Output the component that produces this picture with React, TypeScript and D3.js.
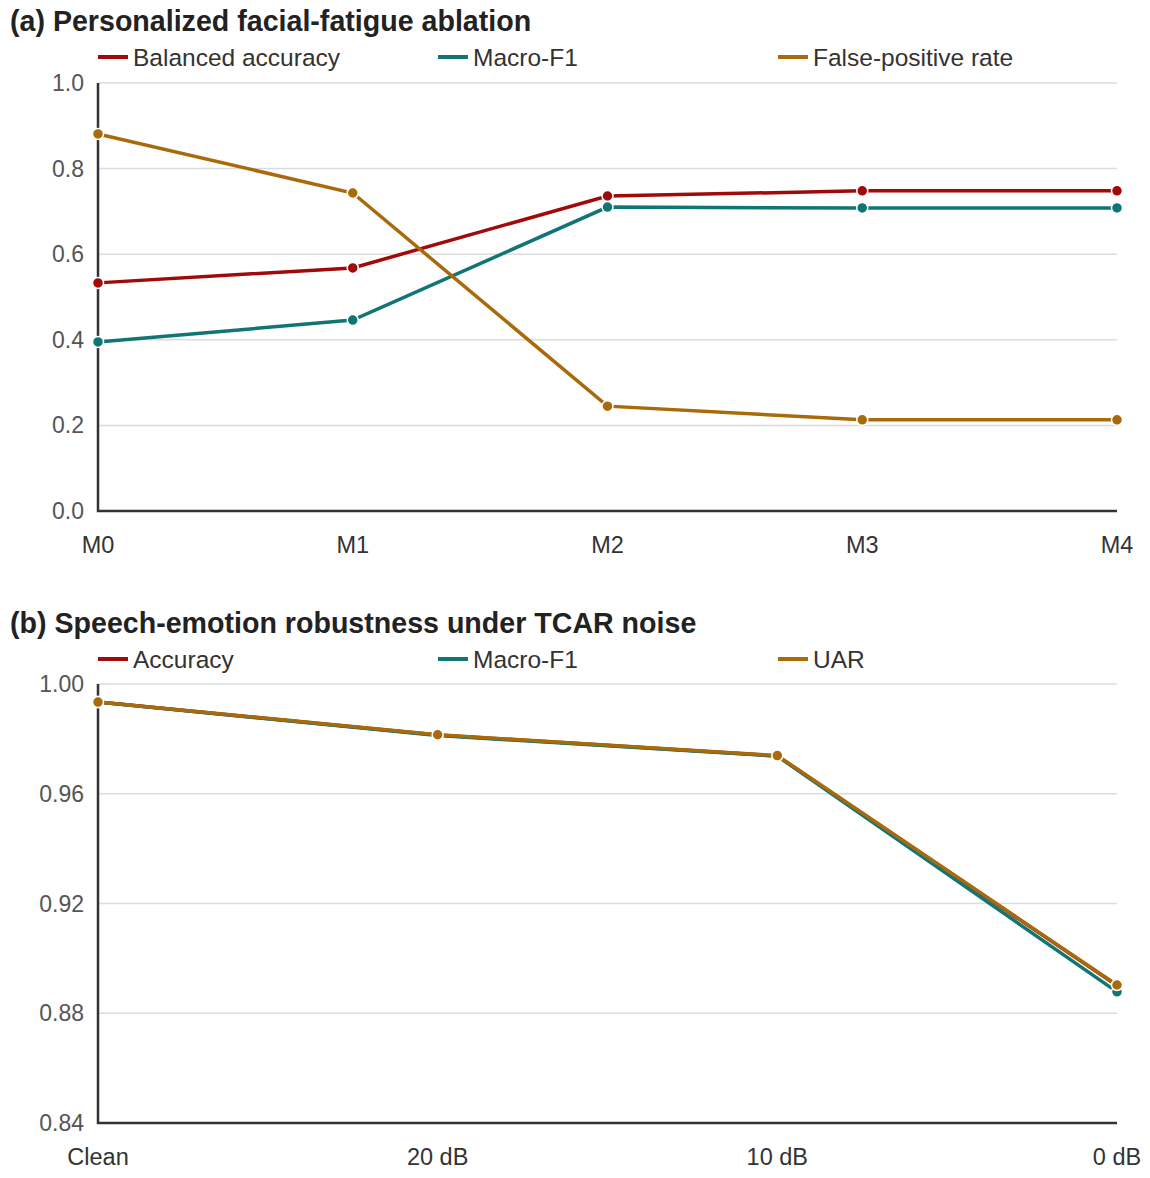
import React, { useEffect, useRef } from 'react';
import * as d3 from 'd3';

// panel (a) data
const stagesA = ['M0', 'M1', 'M2', 'M3', 'M4'];
const balancedAcc = [0.533, 0.568, 0.736, 0.748, 0.748];
const macroF1A = [0.395, 0.446, 0.710, 0.708, 0.708];
const fpRate = [0.881, 0.743, 0.245, 0.213, 0.213];
const ticksA = [0, 0.2, 0.4, 0.6, 0.8, 1.0];

// panel (b) data
const noiseB = ['Clean', '20 dB', '10 dB', '0 dB'];
const accuracyB = [0.9934, 0.9814, 0.9738, 0.8901];
const macroF1B = [0.9934, 0.9812, 0.9737, 0.8878];
const uarB = [0.9934, 0.9815, 0.9739, 0.8903];
const ticksB = [0.84, 0.88, 0.92, 0.96, 1.0];

const RED = '#a00a0a';
const TEAL = '#0f7675';
const GOLD = '#a86a0a';
const FONT = '"Liberation Sans", Arial, sans-serif';

interface Series {
  name: string;
  color: string;
  values: number[];
}

interface PanelSpec {
  title: string;
  top: number; // title baseline
  yTop: number;
  yBottom: number;
  domain: [number, number];
  ticks: number[];
  fmt: string;
  cats: string[];
  series: Series[];
}

const panels: PanelSpec[] = [
  {
    title: '(a) Personalized facial-fatigue ablation',
    top: 31,
    yTop: 83,
    yBottom: 511,
    domain: [0, 1],
    ticks: ticksA,
    fmt: '.1f',
    cats: stagesA,
    series: [
      { name: 'Balanced accuracy', color: RED, values: balancedAcc },
      { name: 'Macro-F1', color: TEAL, values: macroF1A },
      { name: 'False-positive rate', color: GOLD, values: fpRate },
    ],
  },
  {
    title: '(b) Speech-emotion robustness under TCAR noise',
    top: 633,
    yTop: 684,
    yBottom: 1123,
    domain: [0.84, 1.0],
    ticks: ticksB,
    fmt: '.2f',
    cats: noiseB,
    series: [
      { name: 'Accuracy', color: RED, values: accuracyB },
      { name: 'Macro-F1', color: TEAL, values: macroF1B },
      { name: 'UAR', color: GOLD, values: uarB },
    ],
  },
];

const App: React.FC = () => {
  const svgRef = useRef<SVGSVGElement>(null);
  const width = 1150;
  const height = 1178;
  const left = 98;
  const right = 1117;

  useEffect(() => {
    if (!svgRef.current) return;
    const svg = d3.select(svgRef.current);
    svg.selectAll('*').remove();

    panels.forEach((p) => {
      const g = svg.append('g');

      const x = d3.scalePoint<string>().domain(p.cats).range([left, right]);
      const y = d3.scaleLinear().domain(p.domain).range([p.yBottom, p.yTop]);

      // 标题
      g.append('text')
        .attr('x', 10)
        .attr('y', p.top)
        .attr('font-family', FONT)
        .attr('font-weight', 700)
        .attr('font-size', 28.6)
        .attr('fill', '#222')
        .text(p.title);

      // 图例
      const legendY = p.top + 26;
      p.series.forEach((s, i) => {
        const lx = left + i * 340;
        g.append('line')
          .attr('x1', lx)
          .attr('x2', lx + 30)
          .attr('y1', legendY)
          .attr('y2', legendY)
          .attr('stroke', s.color)
          .attr('stroke-width', 4);
        g.append('text')
          .attr('x', lx + 35)
          .attr('y', legendY)
          .attr('dy', '0.35em')
          .attr('font-family', FONT)
          .attr('font-size', 24.5)
          .attr('fill', '#333')
          .text(s.name);
      });

      // 网格线
      g.selectAll('.grid')
        .data(p.ticks.slice(1))
        .enter()
        .append('line')
        .attr('x1', left)
        .attr('x2', right)
        .attr('y1', (d) => y(d))
        .attr('y2', (d) => y(d))
        .attr('stroke', '#dcdcdc')
        .attr('stroke-width', 1.5);

      // y 轴标签
      const fmt = d3.format(p.fmt);
      g.selectAll('.ytick')
        .data(p.ticks)
        .enter()
        .append('text')
        .attr('x', 84)
        .attr('y', (d) => y(d))
        .attr('dy', '0.35em')
        .attr('text-anchor', 'end')
        .attr('font-family', FONT)
        .attr('font-size', 23)
        .attr('fill', '#555')
        .text((d) => fmt(d));

      // x 轴标签
      g.selectAll('.xtick')
        .data(p.cats)
        .enter()
        .append('text')
        .attr('x', (d) => x(d) as number)
        .attr('y', p.yBottom + 34)
        .attr('dy', '0.35em')
        .attr('text-anchor', 'middle')
        .attr('font-family', FONT)
        .attr('font-size', 23.5)
        .attr('fill', '#333')
        .text((d) => d);

      // 坐标轴线
      g.append('path')
        .attr('d', `M${left},${p.yTop}V${p.yBottom}H${right}`)
        .attr('fill', 'none')
        .attr('stroke', '#333')
        .attr('stroke-width', 2.5);

      // 折线与散点
      const line = d3
        .line<number>()
        .x((_, i) => x(p.cats[i]) as number)
        .y((d) => y(d));

      p.series.forEach((s) => {
        g.append('path')
          .datum(s.values)
          .attr('d', line)
          .attr('fill', 'none')
          .attr('stroke', s.color)
          .attr('stroke-width', 3.5);
        g.selectAll(null)
          .data(s.values)
          .enter()
          .append('circle')
          .attr('cx', (_, i) => x(p.cats[i]) as number)
          .attr('cy', (d) => y(d))
          .attr('r', 5.5)
          .attr('fill', s.color)
          .attr('stroke', '#fff')
          .attr('stroke-width', 1.5);
      });
    });
  }, []);

  return (
    <div style={{ position: 'absolute', left: 0, top: 0 }}>
      <svg ref={svgRef} width={width} height={height} style={{ background: '#fff', display: 'block' }} />
    </div>
  );
};

export default App;
